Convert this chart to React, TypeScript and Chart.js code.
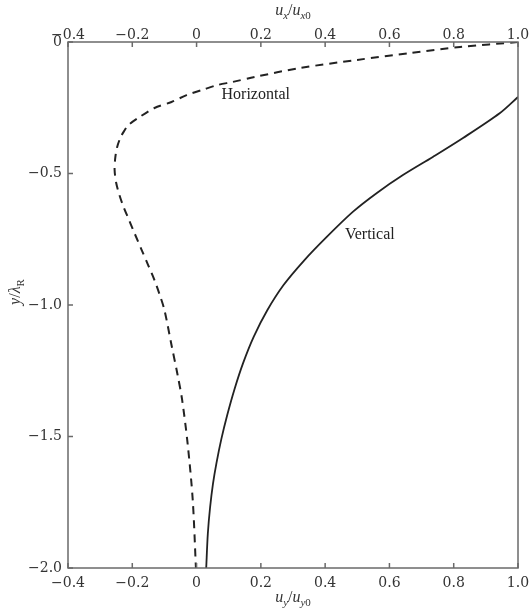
import { useEffect, useRef } from "react";
import { Chart, registerables } from "chart.js";

Chart.register(...registerables);

// ---- data ----
const xTicks = [-0.4, -0.2, 0, 0.2, 0.4, 0.6, 0.8, 1.0];
const yTicks = [0, -0.5, -1.0, -1.5, -2.0];

// Horizontal (dashed) profile: u_x/u_x0 vs y/λR
const horizontalX = [1.0, 0.82, 0.664, 0.5, 0.321, 0.181, 0.112, 0.064, 0.016, -0.031, -0.078, -0.131, -0.177, -0.212, -0.226, -0.236, -0.247, -0.253, -0.255, -0.25, -0.24, -0.226, -0.21, -0.192, -0.171, -0.15, -0.131, -0.115, -0.1, -0.078, -0.059, -0.045, -0.028, -0.012, -0.002];
const horizontalY = [0, -0.019, -0.042, -0.068, -0.099, -0.133, -0.152, -0.164, -0.183, -0.202, -0.228, -0.251, -0.285, -0.316, -0.34, -0.361, -0.399, -0.441, -0.487, -0.536, -0.582, -0.631, -0.677, -0.73, -0.79, -0.85, -0.905, -0.96, -1.019, -1.152, -1.266, -1.36, -1.525, -1.74, -2.0];

// Vertical (solid) profile: u_y/u_y0 vs y/λR
const verticalX = [1.0, 0.944, 0.829, 0.735, 0.642, 0.561, 0.486, 0.405, 0.335, 0.27, 0.22, 0.178, 0.145, 0.118, 0.095, 0.077, 0.062, 0.051, 0.042, 0.035, 0.03];
const verticalY = [-0.209, -0.27, -0.365, -0.437, -0.506, -0.574, -0.646, -0.741, -0.83, -0.925, -1.02, -1.12, -1.22, -1.32, -1.42, -1.51, -1.6, -1.68, -1.77, -1.87, -2.0];

const curveNames = ["Horizontal", "Vertical"];
const curveLabelX = [0.184, 0.539];
const curveLabelY = [-0.2015, -0.734];

const SERIF = "'Liberation Serif', 'DejaVu Serif', serif";
const TICK_SERIF = "'DejaVu Serif', 'Liberation Serif', serif";
const INK = "#222";
const AXIS = "#6a6a6a";

const fmt = (v: number) => {
  if (Math.abs(v) < 1e-9) return "0";
  const s = Math.abs(v).toFixed(1);
  return v < 0 ? "\u2212" + s : s;
};

type Part = { t: string; italic?: boolean; sub?: boolean };

function drawRich(ctx: CanvasRenderingContext2D, parts: Part[], cx: number, baseline: number) {
  const size = 16;
  const subSize = 11;
  const fontFor = (p: Part) => `${p.italic ? "italic " : ""}${p.sub ? subSize : size}px ${SERIF}`;
  let total = 0;
  const widths = parts.map((p) => {
    ctx.font = fontFor(p);
    const w = ctx.measureText(p.t).width;
    total += w;
    return w;
  });
  let x = cx - total / 2;
  ctx.textBaseline = "alphabetic";
  ctx.textAlign = "left";
  parts.forEach((p, i) => {
    ctx.font = fontFor(p);
    ctx.fillText(p.t, x, baseline + (p.sub ? 4 : 0));
    x += widths[i];
  });
}

const decorPlugin = {
  id: "decor",
  afterDraw(chart: any) {
    const { ctx, chartArea: a, scales } = chart;
    const xs = scales.x;
    const ys = scales.y;
    ctx.save();
    // frame
    ctx.strokeStyle = AXIS;
    ctx.lineWidth = 1.5;
    ctx.strokeRect(a.left, a.top, a.right - a.left, a.bottom - a.top);
    // inward ticks
    ctx.beginPath();
    xTicks.forEach((v) => {
      const px = xs.getPixelForValue(v);
      ctx.moveTo(px, a.top);
      ctx.lineTo(px, a.top + 5);
      ctx.moveTo(px, a.bottom);
      ctx.lineTo(px, a.bottom - 5);
    });
    yTicks.forEach((v) => {
      const py = ys.getPixelForValue(v);
      ctx.moveTo(a.left, py);
      ctx.lineTo(a.left + 5, py);
    });
    ctx.stroke();

    // curve labels
    ctx.fillStyle = INK;
    ctx.font = `16px ${SERIF}`;
    ctx.textAlign = "center";
    ctx.textBaseline = "middle";
    curveNames.forEach((n, i) => {
      ctx.fillText(n, xs.getPixelForValue(curveLabelX[i]), ys.getPixelForValue(curveLabelY[i]));
    });

    // axis titles
    const cx = (a.left + a.right) / 2;
    ctx.fillStyle = "#333";
    drawRich(ctx, [
      { t: "u", italic: true },
      { t: "x", italic: true, sub: true },
      { t: "/" },
      { t: "u", italic: true },
      { t: "x", italic: true, sub: true },
      { t: "0", sub: true },
    ], cx, 15);
    drawRich(ctx, [
      { t: "u", italic: true },
      { t: "y", italic: true, sub: true },
      { t: "/" },
      { t: "u", italic: true },
      { t: "y", italic: true, sub: true },
      { t: "0", sub: true },
    ], cx, 602);
    ctx.save();
    ctx.translate(20, 292);
    ctx.rotate(-Math.PI / 2);
    drawRich(ctx, [
      { t: "y", italic: true },
      { t: "/" },
      { t: "λ", italic: true },
      { t: "R", sub: true },
    ], 0, 0);
    ctx.restore();
    ctx.restore();
  },
};

export default function App() {
  const ref = useRef<HTMLCanvasElement | null>(null);
  useEffect(() => {
    if (!ref.current) return;
    const tickFont = { family: TICK_SERIF, size: 14 };
    const noGrid = { display: false, drawTicks: false, tickLength: 0 };
    const fitX = (h: number) => (s: any) => {
      s.height = h;
      s.paddingLeft = 0;
      s.paddingRight = 0;
    };
    const chart = new Chart(ref.current, {
      type: "scatter",
      data: {
        datasets: [
          {
            label: curveNames[0],
            data: horizontalX.map((x, i) => ({ x, y: horizontalY[i] })),
            showLine: true,
            borderColor: INK,
            borderWidth: 2,
            borderDash: [8, 6],
            pointRadius: 0,
            tension: 0.3,
            xAxisID: "x",
          },
          {
            label: curveNames[1],
            data: verticalX.map((x, i) => ({ x, y: verticalY[i] })),
            showLine: true,
            borderColor: INK,
            borderWidth: 1.8,
            pointRadius: 0,
            tension: 0.3,
            xAxisID: "x",
          },
        ],
      },
      options: {
        animation: false,
        responsive: false,
        devicePixelRatio: 1,
        layout: { padding: { left: 0, right: 13, top: 0, bottom: 0 } },
        plugins: { legend: { display: false }, tooltip: { enabled: false } },
        scales: {
          x: {
            type: "linear",
            position: "bottom",
            min: -0.4,
            max: 1.0,
            afterBuildTicks: (s: any) => { s.ticks = xTicks.map((v) => ({ value: v })); },
            afterFit: fitX(44),
            grid: noGrid,
            border: { display: false },
            ticks: { font: tickFont, color: "#333", padding: 7, maxRotation: 0, autoSkip: false, callback: (v: any) => fmt(Number(v)) },
          },
          x2: {
            type: "linear",
            position: "top",
            min: -0.4,
            max: 1.0,
            afterBuildTicks: (s: any) => { s.ticks = xTicks.map((v) => ({ value: v })); },
            afterFit: fitX(42),
            grid: noGrid,
            border: { display: false },
            ticks: { font: tickFont, color: "#333", padding: -2, maxRotation: 0, autoSkip: false, callback: (v: any) => fmt(Number(v)) },
          },
          y: {
            type: "linear",
            min: -2.0,
            max: 0,
            afterBuildTicks: (s: any) => { s.ticks = yTicks.map((v) => ({ value: v })); },
            afterFit: (s: any) => { s.width = 68; s.paddingTop = 0; s.paddingBottom = 0; },
            grid: noGrid,
            border: { display: false },
            ticks: { font: tickFont, color: "#333", padding: 6, autoSkip: false, callback: (v: any) => fmt(Number(v)) },
          },
        },
      },
      plugins: [decorPlugin],
    } as any);
    return () => chart.destroy();
  }, []);
  return (
    <div style={{ position: "fixed", left: 0, top: 0, width: 531, height: 612, background: "#fff" }}>
      <canvas ref={ref} width={531} height={612} />
    </div>
  );
}
